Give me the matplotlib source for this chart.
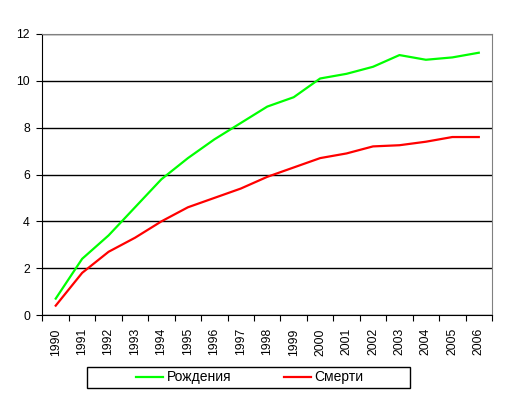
import numpy as np
import matplotlib
matplotlib.use('Agg')
from matplotlib import pyplot as plt
from matplotlib.patches import Rectangle

plt.rcParams['font.family'] = ['Liberation Sans', 'DejaVu Sans']

years = ['1990', '1991', '1992', '1993', '1994', '1995', '1996', '1997', '1998',
         '1999', '2000', '2001', '2002', '2003', '2004', '2005', '2006']
births = [0.7, 2.4, 3.4, 4.6, 5.8, 6.7, 7.5, 8.2, 8.9, 9.3, 10.1, 10.3, 10.6, 11.1, 10.9, 11.0, 11.2]
deaths = [0.4, 1.8, 2.7, 3.3, 4.0, 4.6, 5.0, 5.4, 5.9, 6.3, 6.7, 6.9, 7.2, 7.25, 7.4, 7.6, 7.6]

W, H = 506, 398
fig = plt.figure(figsize=(W / 100, H / 100), dpi=100)
ax = fig.add_axes([42.5 / W, 1 - 315 / H, 449.5 / W, 281 / H])

x = np.arange(len(years))
ax.plot(x, births, color='#00ff00', lw=1.6, label='Рождения')
ax.plot(x, deaths, color='#ff0000', lw=1.6, label='Смерти')

ax.set_xlim(-0.5, len(years) - 0.5)
ax.set_ylim(0, 12)
ax.set_yticks(range(0, 13, 2))
ax.yaxis.grid(True, color='black', lw=1)
ax.set_axisbelow(True)

ax.set_xticks(np.arange(-0.5, len(years), 1))
ax.set_xticklabels([])
ax.set_xticks(x, minor=True)
ax.set_xticklabels(years, minor=True, rotation=90)
ax.tick_params(axis='x', which='major', length=4, direction='out', color='black')
ax.tick_params(axis='x', which='minor', length=0, pad=9.5, labelsize=8.8)
ax.tick_params(axis='y', length=4, direction='out', labelsize=8.8, pad=5)

ax.spines['top'].set_color('#808080')
ax.spines['right'].set_color('#808080')
ax.spines['left'].set_color('black')
ax.spines['bottom'].set_color('black')

# legend box drawn separately so it can be wider than the entries
fig.patches.append(Rectangle((87 / W, 1 - 388 / H), 323 / W, 21 / H, transform=fig.transFigure,
                             facecolor='white', edgecolor='black', lw=1, zorder=1))
leg = fig.legend(loc='center', bbox_to_anchor=(250 / W, 1 - 377.5 / H), ncol=2, frameon=False,
                 fontsize=10, handlelength=1.95, columnspacing=3.8, handletextpad=0.25)
leg.set_zorder(2)

plt.savefig('out.png', dpi=100)
